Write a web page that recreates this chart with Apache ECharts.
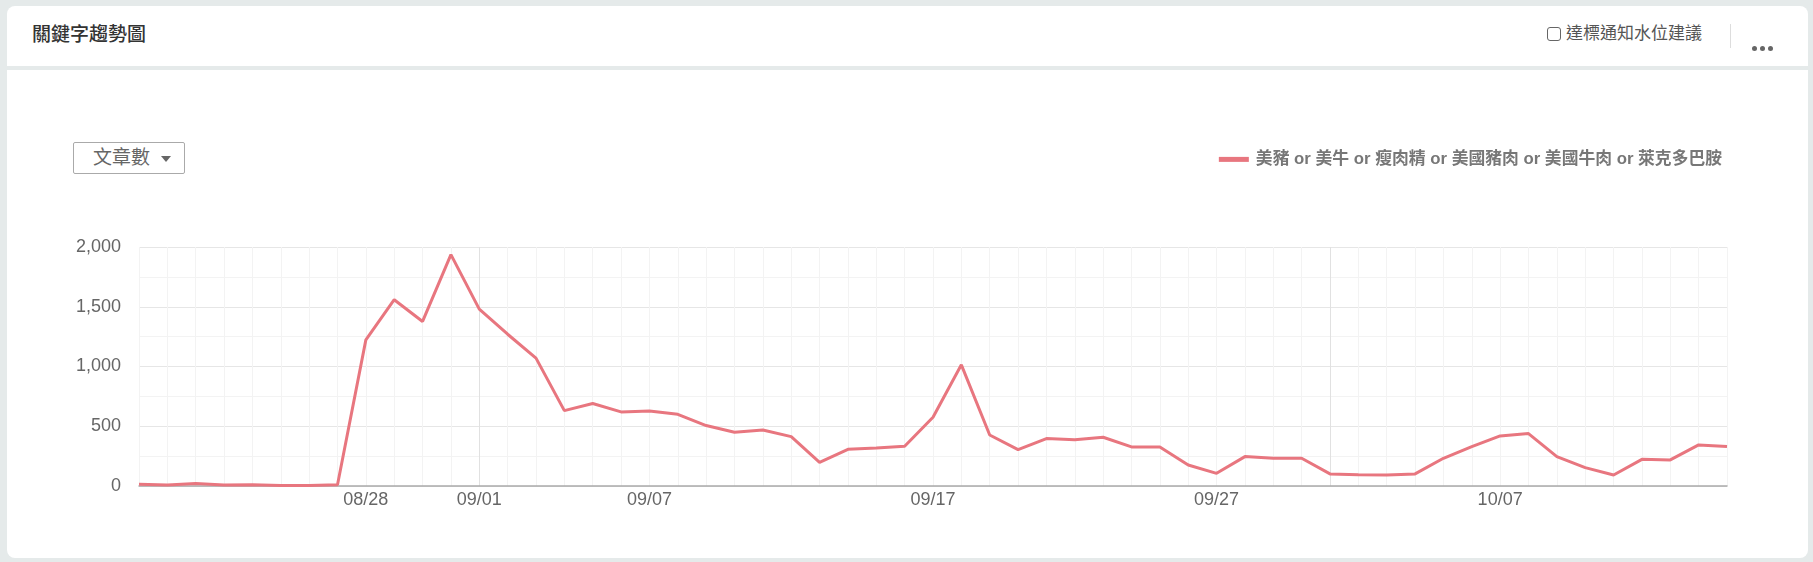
<!DOCTYPE html>
<html>
<head>
<meta charset="utf-8">
<script src="https://cdn.jsdelivr.net/npm/echarts@6/dist/echarts.min.js"></script>
<style>
  html, body { margin: 0; padding: 0; }
  body { width: 1813px; height: 562px; background: #e5eaea; position: relative; overflow: hidden;
         font-family: 'Liberation Sans', 'Noto Sans CJK TC', sans-serif; }
  .card-head { position: absolute; left: 7px; top: 6px; width: 1801px; height: 60px; background: #fff;
               border-radius: 8px 8px 0 0; }
  .card-body { position: absolute; left: 7px; top: 70px; width: 1801px; height: 488px; background: #fff;
               border-radius: 0 0 8px 8px; }
  .title { position: absolute; left: 32px; top: 24px; font-size: 19px; line-height: 22px; color: #333; font-weight: 500; }
  .chk { position: absolute; left: 1547px; top: 27px; width: 12px; height: 12px; border: 1.5px solid #666; border-radius: 3px; background: #fff; }
  .chk-label { position: absolute; left: 1566px; top: 24px; font-size: 17px; line-height: 20px; color: #555; }
  .sep { position: absolute; left: 1730px; top: 24px; width: 1px; height: 24px; background: #ddd; }
  .dot { position: absolute; top: 46px; width: 5px; height: 5px; border-radius: 50%; background: #666; }
  .dd { position: absolute; left: 73px; top: 142px; width: 112px; height: 32px; border: 1px solid #aaa; border-radius: 2px; box-sizing: border-box; background: #fff; }
  .dd-text { position: absolute; left: 93px; top: 147px; font-size: 19px; line-height: 22px; color: #666; }
  .dd-arrow { position: absolute; left: 161px; top: 156px; width: 0; height: 0; border-left: 5px solid transparent; border-right: 5px solid transparent; border-top: 6px solid #666; }
  #chart { position: absolute; left: 0; top: 0; width: 1813px; height: 562px; }
</style>
</head>
<body>
<div class="card-head"></div>
<div class="card-body"></div>
<div class="title">關鍵字趨勢圖</div>
<div class="chk"></div>
<div class="chk-label">達標通知水位建議</div>
<div class="sep"></div>
<div class="dot" style="left:1752px"></div>
<div class="dot" style="left:1760px"></div>
<div class="dot" style="left:1768px"></div>
<div class="dd"></div>
<div class="dd-text">文章數</div>
<div class="dd-arrow"></div>
<div id="chart"></div>
<script>
const categories = [
  '08/20','08/21','08/22','08/23','08/24','08/25','08/26','08/27','08/28','08/29','08/30','08/31',
  '09/01','09/02','09/03','09/04','09/05','09/06','09/07','09/08','09/09','09/10','09/11','09/12',
  '09/13','09/14','09/15','09/16','09/17','09/18','09/19','09/20','09/21','09/22','09/23','09/24',
  '09/25','09/26','09/27','09/28','09/29','09/30',
  '10/01','10/02','10/03','10/04','10/05','10/06','10/07','10/08','10/09','10/10','10/11','10/12',
  '10/13','10/14','10/15'
];
const seriesName = '美豬 or 美牛 or 瘦肉精 or 美國豬肉 or 美國牛肉 or 萊克多巴胺';
const articleCounts = [
  14, 8, 20, 8, 11, 5, 5, 11, 1223, 1559, 1377, 1936,
  1480, 1270, 1070, 631, 690, 620, 628, 600, 506, 450, 469, 413,
  198, 307, 318, 332, 575, 1014, 427, 304, 397, 388, 408, 327,
  327, 176, 106, 246, 232, 232,
  101, 95, 92, 101, 232, 330, 419, 439, 246, 154, 92, 223,
  218, 344, 330
];
const xTickLabels = ['08/28', '09/01', '09/07', '09/17', '09/27', '10/07'];
const yTicks = [0, 500, 1000, 1500, 2000];

const FONT = "'Liberation Sans', 'Noto Sans CJK TC', sans-serif";
const vLineColors = categories.map(d => d.endsWith('/01') ? '#e1e1e1' : '#f3f3f3');

const chart = echarts.init(document.getElementById('chart'), null, { renderer: 'canvas' });
chart.setOption({
  animation: false,
  backgroundColor: 'transparent',
  textStyle: { fontFamily: FONT },
  legend: {
    right: 86, top: 146,
    icon: 'rect', itemWidth: 30, itemHeight: 5, itemGap: 10,
    textStyle: { fontFamily: FONT, fontSize: 16.8, fontWeight: 'bold', color: '#777', padding: [0, 0, 0, 2] },
    data: [seriesName]
  },
  grid: { left: 139, right: 86, top: 247, bottom: 76, containLabel: false },
  xAxis: {
    type: 'category',
    data: categories,
    boundaryGap: false,
    axisLine: { show: true, lineStyle: { color: '#aaa', width: 1.5 } },
    axisTick: { show: false },
    axisLabel: {
      interval: (i, v) => xTickLabels.includes(v),
      margin: 5, fontSize: 18, color: '#666', fontFamily: FONT
    },
    splitLine: { show: true, interval: 0, lineStyle: { color: vLineColors, width: 1 } }
  },
  yAxis: {
    type: 'value',
    min: yTicks[0], max: yTicks[yTicks.length - 1], interval: 500,
    axisLine: { show: false },
    axisTick: { show: false },
    axisLabel: {
      margin: 18, fontSize: 18, color: '#666', fontFamily: FONT,
      formatter: v => v.toLocaleString('en-US')
    },
    splitLine: { show: true, lineStyle: { color: '#e6e6e6', width: 1 } },
    minorTick: { show: false, splitNumber: 2 },
    minorSplitLine: { show: true, lineStyle: { color: '#f3f3f3', width: 1 } }
  },
  series: [{
    name: seriesName,
    type: 'line',
    data: articleCounts,
    showSymbol: false,
    symbol: 'none',
    lineStyle: { color: '#e8767f', width: 3 },
    itemStyle: { color: '#e8767f' }
  }]
});
</script>
</body>
</html>
